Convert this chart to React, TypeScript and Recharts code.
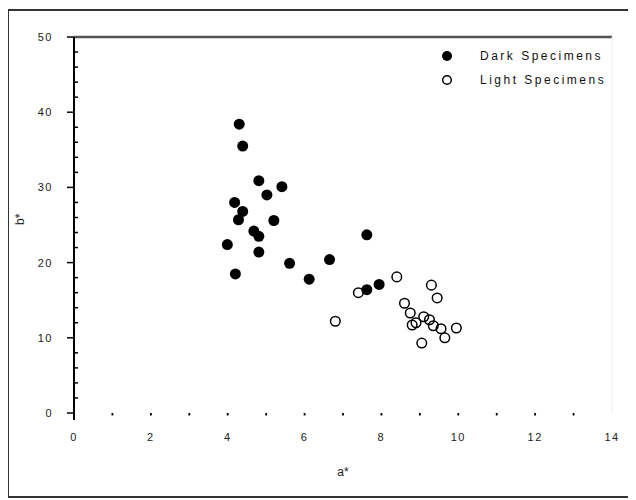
import React from "react";
import { ScatterChart, Scatter, XAxis, YAxis, ReferenceLine } from "recharts";

const darkX = [4.3, 4.39, 4.81, 5.41, 5.02, 4.18, 4.39, 4.28, 5.2, 4.68, 4.81, 3.99, 4.81, 4.2, 5.61, 6.12, 6.65, 7.62, 7.62, 7.94];
const darkY = [38.4, 35.5, 30.9, 30.1, 29.0, 28.0, 26.8, 25.7, 25.6, 24.2, 23.5, 22.4, 21.4, 18.5, 19.9, 17.8, 20.4, 23.7, 16.4, 17.1];
const lightX = [6.8, 7.4, 8.4, 9.3, 9.45, 8.6, 8.75, 8.8, 9.1, 9.25, 9.35, 9.55, 9.65, 9.95, 9.05, 8.9];
const lightY = [12.2, 16.0, 18.1, 17.0, 15.3, 14.6, 13.3, 11.7, 12.8, 12.4, 11.6, 11.2, 10.0, 11.3, 9.3, 12.0];
const xTicks = [0, 1, 2, 3, 4, 5, 6, 7, 8, 9, 10, 11, 12, 13, 14];
const yTicks = [0, 2, 4, 6, 8, 10, 12, 14, 16, 18, 20, 22, 24, 26, 28, 30, 32, 34, 36, 38, 40, 42, 44, 46, 48, 50];
const seriesNames = ["Dark Specimens", "Light Specimens"];
const xTitle = "a*";
const yTitle = "b*";

const darkData = darkX.map((x, i) => ({ x, y: darkY[i] }));
const lightData = lightX.map((x, i) => ({ x, y: lightY[i] }));

const FONT = "'Liberation Sans', Arial, sans-serif";

const YTick = (props: any) => {
  const { x, y, payload } = props;
  const v = payload.value;
  const major = v % 10 === 0;
  return (
    <g>
      {v === 0 ? <line x1={x} x2={x} y1={y} y2={y + 7} stroke="#000" strokeWidth={2} /> : null}
      {major ? (
        <>
          <line x1={x - 7} x2={x} y1={y} y2={y} stroke="#000" strokeWidth={1.5} />
          <text x={x - 21} y={y} textAnchor="end" dominantBaseline="central" fontSize={11} fontFamily={FONT} fill="#222" letterSpacing={1.5}>
            {v}
          </text>
        </>
      ) : (
        <line x1={x} x2={x + 4} y1={y} y2={y} stroke="#000" strokeWidth={1.5} />
      )}
    </g>
  );
};

const XTick = (props: any) => {
  const { x, y, payload } = props;
  const v = payload.value;
  const major = v % 2 === 0;
  return (
    <g>
      {v > 0 && v < 14 ? <line x1={x} x2={x} y1={y} y2={y + 2.5} stroke="#000" strokeWidth={1.8} /> : null}
      {major ? (
        <text x={x} y={y + 24} textAnchor="middle" dominantBaseline="central" fontSize={11} fontFamily={FONT} fill="#222" letterSpacing={1.5}>
          {v}
        </text>
      ) : null}
    </g>
  );
};

const DarkDot = (p: any) => <circle cx={p.cx} cy={p.cy} r={5.5} fill="#000" />;
const LightDot = (p: any) => <circle cx={p.cx} cy={p.cy} r={4.8} fill="none" stroke="#000" strokeWidth={1.5} />;

const LegendBox = () => (
  <div style={{ position: "absolute", left: 432, top: 36, fontFamily: FONT, fontSize: 12, color: "#111", letterSpacing: 2.5 }}>
    {seriesNames.map((n, i) => (
      <div key={n} style={{ height: 24, display: "flex", alignItems: "center", whiteSpace: "nowrap" }}>
        <svg width={14} height={14} style={{ marginRight: 26 }}>
          {i === 0 ? (
            <circle cx={7} cy={7} r={5} fill="#000" />
          ) : (
            <circle cx={7} cy={7} r={4.3} fill="none" stroke="#000" strokeWidth={1.5} />
          )}
        </svg>
        <span>{n}</span>
      </div>
    ))}
  </div>
);

export default function App() {
  return (
    <div style={{ position: "relative", width: 628, height: 490, overflow: "hidden" }}>
      <ScatterChart width={628} height={490} margin={{ top: 29, right: 24, left: 0, bottom: 0 }}>
        <XAxis
          type="number"
          dataKey="x"
          domain={[0, 14]}
          ticks={xTicks}
          interval={0}
          axisLine={false}
          tickLine={false}
          tickSize={0}
          tickMargin={0}
          height={85}
          tick={<XTick />}
          label={{ value: xTitle, position: "insideBottom", offset: 22, fontSize: 12, fontFamily: FONT, fill: "#222" }}
        />
        <YAxis
          type="number"
          dataKey="y"
          domain={[0, 50]}
          ticks={yTicks}
          interval={0}
          width={66}
          axisLine={{ stroke: "#000", strokeWidth: 2 }}
          tickLine={false}
          tickSize={0}
          tickMargin={0}
          tick={<YTick />}
          label={{ value: yTitle, angle: -90, position: "insideLeft", offset: 12, fontSize: 12, fontFamily: FONT, fill: "#222" }}
        />
        <ReferenceLine y={50} stroke="#555" strokeWidth={2.5} />
        <ReferenceLine x={14} stroke="#eee" strokeWidth={1} />
        <Scatter name={seriesNames[0]} data={darkData} shape={<DarkDot />} isAnimationActive={false} />
        <Scatter name={seriesNames[1]} data={lightData} shape={<LightDot />} isAnimationActive={false} />
      </ScatterChart>
      <LegendBox />
      <div
        style={{
          position: "absolute",
          left: -1,
          top: 1,
          width: 660,
          height: 489,
          borderLeft: "2px solid #333",
          borderTop: "2px solid #333",
          borderBottom: "2px solid #333",
          boxSizing: "border-box",
          pointerEvents: "none",
        }}
      />
    </div>
  );
}
